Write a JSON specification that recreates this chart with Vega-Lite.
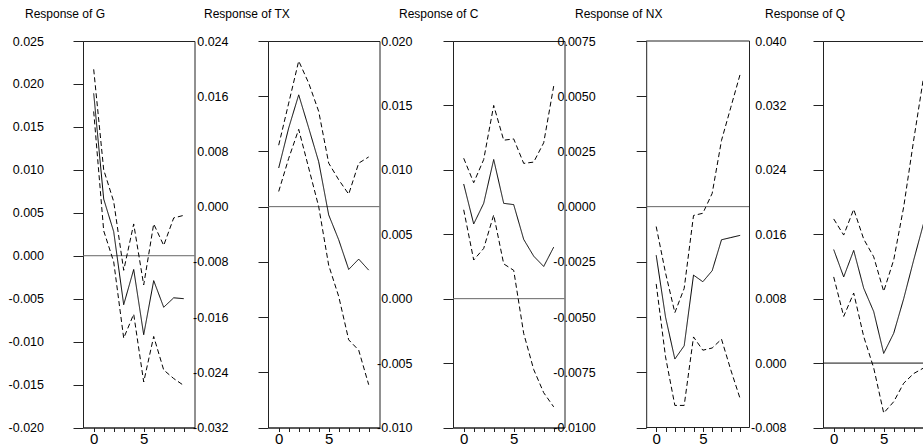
{
  "$schema": "https://vega.github.io/schema/vega-lite/v6.json",
  "autosize": {"type": "none"},
  "padding": {"left": 83, "top": 41, "right": 840, "bottom": 406},
  "datasets": {
    "irf": [
      {"p":"G","t":0,"resp":0.0189,"upper":0.0217,"lower":0.0168},
      {"p":"G","t":1,"resp":0.0066,"upper":0.0100,"lower":0.0029},
      {"p":"G","t":2,"resp":0.0028,"upper":0.0063,"lower":-0.0007},
      {"p":"G","t":3,"resp":-0.0057,"upper":-0.0017,"lower":-0.0096},
      {"p":"G","t":4,"resp":-0.0016,"upper":0.0037,"lower":-0.0068},
      {"p":"G","t":5,"resp":-0.0092,"upper":-0.0034,"lower":-0.0147},
      {"p":"G","t":6,"resp":-0.0029,"upper":0.0037,"lower":-0.0094},
      {"p":"G","t":7,"resp":-0.0060,"upper":0.0012,"lower":-0.0133},
      {"p":"G","t":8,"resp":-0.0049,"upper":0.0044,"lower":-0.0143},
      {"p":"G","t":9,"resp":-0.0050,"upper":0.0047,"lower":-0.0151},
      {"p":"TX","t":0,"resp":0.0056,"upper":0.0089,"lower":0.0022},
      {"p":"TX","t":1,"resp":0.0114,"upper":0.0150,"lower":0.0070},
      {"p":"TX","t":2,"resp":0.0162,"upper":0.0211,"lower":0.0112},
      {"p":"TX","t":3,"resp":0.0114,"upper":0.0179,"lower":0.0056},
      {"p":"TX","t":4,"resp":0.0065,"upper":0.0138,"lower":0.0000},
      {"p":"TX","t":5,"resp":-0.0012,"upper":0.0063,"lower":-0.0085},
      {"p":"TX","t":6,"resp":-0.0048,"upper":0.0039,"lower":-0.0130},
      {"p":"TX","t":7,"resp":-0.0091,"upper":0.0018,"lower":-0.0193},
      {"p":"TX","t":8,"resp":-0.0076,"upper":0.0063,"lower":-0.0208},
      {"p":"TX","t":9,"resp":-0.0092,"upper":0.0072,"lower":-0.0258},
      {"p":"C","t":0,"resp":0.0089,"upper":0.0109,"lower":0.0069},
      {"p":"C","t":1,"resp":0.0058,"upper":0.0090,"lower":0.0030},
      {"p":"C","t":2,"resp":0.0074,"upper":0.0108,"lower":0.0039},
      {"p":"C","t":3,"resp":0.0108,"upper":0.0150,"lower":0.0065},
      {"p":"C","t":4,"resp":0.0074,"upper":0.0123,"lower":0.0027},
      {"p":"C","t":5,"resp":0.0073,"upper":0.0124,"lower":0.0022},
      {"p":"C","t":6,"resp":0.0046,"upper":0.0105,"lower":-0.0027},
      {"p":"C","t":7,"resp":0.0033,"upper":0.0106,"lower":-0.0055},
      {"p":"C","t":8,"resp":0.0025,"upper":0.0121,"lower":-0.0073},
      {"p":"C","t":9,"resp":0.0040,"upper":0.0165,"lower":-0.0084},
      {"p":"NX","t":0,"resp":-0.0022,"upper":-0.0009,"lower":-0.0035},
      {"p":"NX","t":1,"resp":-0.0050,"upper":-0.0030,"lower":-0.0068},
      {"p":"NX","t":2,"resp":-0.0069,"upper":-0.0048,"lower":-0.0090},
      {"p":"NX","t":3,"resp":-0.0063,"upper":-0.0037,"lower":-0.0090},
      {"p":"NX","t":4,"resp":-0.0031,"upper":-0.0004,"lower":-0.0059},
      {"p":"NX","t":5,"resp":-0.0034,"upper":-0.0003,"lower":-0.0065},
      {"p":"NX","t":6,"resp":-0.0029,"upper":0.0006,"lower":-0.0064},
      {"p":"NX","t":7,"resp":-0.0015,"upper":0.0030,"lower":-0.0060},
      {"p":"NX","t":8,"resp":-0.0014,"upper":0.0045,"lower":-0.0074},
      {"p":"NX","t":9,"resp":-0.0013,"upper":0.0060,"lower":-0.0087},
      {"p":"Q","t":0,"resp":0.0141,"upper":0.0179,"lower":0.0107},
      {"p":"Q","t":1,"resp":0.0107,"upper":0.0159,"lower":0.0058},
      {"p":"Q","t":2,"resp":0.0140,"upper":0.0191,"lower":0.0087},
      {"p":"Q","t":3,"resp":0.0093,"upper":0.0154,"lower":0.0033},
      {"p":"Q","t":4,"resp":0.0064,"upper":0.0132,"lower":-0.0006},
      {"p":"Q","t":5,"resp":0.0012,"upper":0.0089,"lower":-0.0062},
      {"p":"Q","t":6,"resp":0.0037,"upper":0.0128,"lower":-0.0048},
      {"p":"Q","t":7,"resp":0.0080,"upper":0.0194,"lower":-0.0025},
      {"p":"Q","t":8,"resp":0.0128,"upper":0.0277,"lower":-0.0013},
      {"p":"Q","t":9,"resp":0.0174,"upper":0.0356,"lower":-0.0006}
    ]
  },
  "hconcat": [
    {
      "width": 111.5, "height": 386.5,
      "title": {"text": "Response of G", "dx": -58},
      "layer": [
        {"data": {"values": [{}]}, "mark": {"type": "rule", "color": "#666"}, "encoding": {"y": {"datum": 0, "type": "quantitative"}}},
        {
          "data": {"name": "irf"},
          "transform": [{"filter": "datum.p === 'G'"}, {"fold": ["resp", "lower", "upper"], "as": ["s", "v"]}],
          "mark": {"type": "line", "color": "#000", "strokeWidth": 1},
          "encoding": {
            "x": {"field": "t", "type": "quantitative", "scale": {"domain": [-1.07, 10.08], "nice": false, "zero": false},
                  "axis": {"values": [0,1,2,3,4,5,6,7,8,9], "labelExpr": "datum.value % 5 === 0 ? datum.label : ''", "tickSize": 4, "labelFontSize": 15, "labelPadding": 0, "grid": false, "title": null, "labelFlush": false, "labelOverlap": false}},
            "y": {"field": "v", "type": "quantitative", "scale": {"domain": [-0.02, 0.025], "nice": false, "zero": false},
                  "axis": {"values": [-0.02,-0.015,-0.01,-0.005,0,0.005,0.01,0.015,0.02,0.025], "format": ".3f", "tickSize": 10, "labelPadding": 29.5, "labelFontSize": 12.5, "grid": false, "title": null, "labelOverlap": false, "labelFlush": false, "labelBound": false}},
            "detail": {"field": "s"},
            "strokeDash": {"field": "s", "type": "nominal", "scale": {"domain": ["resp", "lower", "upper"], "range": [[1, 0], [5, 3], [5, 3]]}, "legend": null}
          }
        }
      ]
    },
    {
      "width": 111.5, "height": 386.5,
      "title": {"text": "Response of TX", "dx": -64},
      "layer": [
        {"data": {"values": [{}]}, "mark": {"type": "rule", "color": "#666"}, "encoding": {"y": {"datum": 0, "type": "quantitative"}}},
        {
          "data": {"name": "irf"},
          "transform": [{"filter": "datum.p === 'TX'"}, {"fold": ["resp", "lower", "upper"], "as": ["s", "v"]}],
          "mark": {"type": "line", "color": "#000", "strokeWidth": 1},
          "encoding": {
            "x": {"field": "t", "type": "quantitative", "scale": {"domain": [-1.07, 10.08], "nice": false, "zero": false},
                  "axis": {"values": [0,1,2,3,4,5,6,7,8,9], "labelExpr": "datum.value % 5 === 0 ? datum.label : ''", "tickSize": 4, "labelFontSize": 15, "labelPadding": 0, "grid": false, "title": null, "labelFlush": false, "labelOverlap": false}},
            "y": {"field": "v", "type": "quantitative", "scale": {"domain": [-0.032, 0.024], "nice": false, "zero": false},
                  "axis": {"values": [-0.032,-0.024,-0.016,-0.008,0,0.008,0.016,0.024], "format": ".3f", "tickSize": 10, "labelPadding": 30, "labelFontSize": 12.5, "grid": false, "title": null, "labelOverlap": false, "labelFlush": false, "labelBound": false}},
            "detail": {"field": "s"},
            "strokeDash": {"field": "s", "type": "nominal", "scale": {"domain": ["resp", "lower", "upper"], "range": [[1, 0], [5, 3], [5, 3]]}, "legend": null}
          }
        }
      ]
    },
    {
      "width": 111.5, "height": 386.5,
      "title": {"text": "Response of C", "dx": -54},
      "layer": [
        {"data": {"values": [{}]}, "mark": {"type": "rule", "color": "#666"}, "encoding": {"y": {"datum": 0, "type": "quantitative"}}},
        {
          "data": {"name": "irf"},
          "transform": [{"filter": "datum.p === 'C'"}, {"fold": ["resp", "lower", "upper"], "as": ["s", "v"]}],
          "mark": {"type": "line", "color": "#000", "strokeWidth": 1},
          "encoding": {
            "x": {"field": "t", "type": "quantitative", "scale": {"domain": [-1.07, 10.08], "nice": false, "zero": false},
                  "axis": {"values": [0,1,2,3,4,5,6,7,8,9], "labelExpr": "datum.value % 5 === 0 ? datum.label : ''", "tickSize": 4, "labelFontSize": 15, "labelPadding": 0, "grid": false, "title": null, "labelFlush": false, "labelOverlap": false}},
            "y": {"field": "v", "type": "quantitative", "scale": {"domain": [-0.01, 0.02], "nice": false, "zero": false},
                  "axis": {"values": [-0.01,-0.005,0,0.005,0.01,0.015,0.02], "format": ".3f", "tickSize": 10, "labelPadding": 31, "labelFontSize": 12.5, "grid": false, "title": null, "labelOverlap": false, "labelFlush": false, "labelBound": false}},
            "detail": {"field": "s"},
            "strokeDash": {"field": "s", "type": "nominal", "scale": {"domain": ["resp", "lower", "upper"], "range": [[1, 0], [5, 3], [5, 3]]}, "legend": null}
          }
        }
      ]
    },
    {
      "width": 111.5, "height": 386.5,
      "view": {"stroke": null},
      "title": {"text": "Response of NX", "dx": -63},
      "layer": [
        {
          "data": {"name": "irf"},
          "transform": [{"filter": "datum.p === 'NX'"}, {"fold": ["resp", "lower", "upper"], "as": ["s", "v"]}],
          "mark": {"type": "line", "color": "#000", "strokeWidth": 1},
          "encoding": {
            "x": {"field": "t", "type": "quantitative", "scale": {"domain": [-1.95, 10.0], "nice": false, "zero": false},
                  "axis": {"values": [0,1,2,3,4,5,6,7,8,9], "labelExpr": "datum.value % 5 === 0 ? datum.label : ''", "tickSize": 4, "labelFontSize": 15, "labelPadding": 0, "grid": false, "title": null, "domain": false, "labelFlush": false, "labelOverlap": false}},
            "y": {"field": "v", "type": "quantitative", "scale": {"domain": [-0.01, 0.0075], "nice": false, "zero": false},
                  "axis": {"values": [-0.01,-0.0075,-0.005,-0.0025,0,0.0025,0.005,0.0075], "format": ".4f", "offset": -8.2, "tickSize": 10, "labelPadding": 41, "labelFontSize": 12.5, "grid": false, "title": null, "labelOverlap": false, "labelFlush": false, "labelBound": false}},
            "detail": {"field": "s"},
            "strokeDash": {"field": "s", "type": "nominal", "scale": {"domain": ["resp", "lower", "upper"], "range": [[1, 0], [5, 3], [5, 3]]}, "legend": null}
          }
        },
        {"data": {"values": [{}]}, "mark": {"type": "rule", "color": "#666"}, "encoding": {"y": {"datum": 0, "type": "quantitative"}, "x": {"datum": -1.07, "type": "quantitative", "axis": {"values": [0,1,2,3,4,5,6,7,8,9], "labelExpr": "datum.value % 5 === 0 ? datum.label : ''", "tickSize": 4, "labelFontSize": 15, "labelPadding": 0, "grid": false, "title": null, "domain": false, "labelFlush": false, "labelOverlap": false}}, "x2": {"datum": 10.0}}},
        {"data": {"values": [{}]}, "mark": {"type": "rule", "color": "#222"}, "encoding": {"y": {"datum": 0.0075, "type": "quantitative"}, "x": {"datum": -1.07, "type": "quantitative", "axis": {"values": [0,1,2,3,4,5,6,7,8,9], "labelExpr": "datum.value % 5 === 0 ? datum.label : ''", "tickSize": 4, "labelFontSize": 15, "labelPadding": 0, "grid": false, "title": null, "domain": false, "labelFlush": false, "labelOverlap": false}}, "x2": {"datum": 10.0}}},
        {"data": {"values": [{}]}, "mark": {"type": "rule", "color": "#222"}, "encoding": {"y": {"datum": -0.01, "type": "quantitative"}, "x": {"datum": -1.07, "type": "quantitative", "axis": {"values": [0,1,2,3,4,5,6,7,8,9], "labelExpr": "datum.value % 5 === 0 ? datum.label : ''", "tickSize": 4, "labelFontSize": 15, "labelPadding": 0, "grid": false, "title": null, "domain": false, "labelFlush": false, "labelOverlap": false}}, "x2": {"datum": 10.0}}},
        {"data": {"values": [{}]}, "mark": {"type": "rule", "color": "#222"}, "encoding": {"x": {"datum": 10.0, "type": "quantitative", "axis": {"values": [0,1,2,3,4,5,6,7,8,9], "labelExpr": "datum.value % 5 === 0 ? datum.label : ''", "tickSize": 4, "labelFontSize": 15, "labelPadding": 0, "grid": false, "title": null, "domain": false, "labelFlush": false, "labelOverlap": false}}, "y": {"datum": -0.01, "type": "quantitative"}, "y2": {"datum": 0.0075}}}
      ]
    },
    {
      "width": 111.5, "height": 386.5,
      "title": {"text": "Response of Q", "dx": -58},
      "layer": [
        {"data": {"values": [{}]}, "mark": {"type": "rule", "color": "#111"}, "encoding": {"y": {"datum": 0, "type": "quantitative"}}},
        {
          "data": {"name": "irf"},
          "transform": [{"filter": "datum.p === 'Q'"}, {"fold": ["resp", "lower", "upper"], "as": ["s", "v"]}],
          "mark": {"type": "line", "color": "#000", "strokeWidth": 1},
          "encoding": {
            "x": {"field": "t", "type": "quantitative", "scale": {"domain": [-1.07, 10.08], "nice": false, "zero": false},
                  "axis": {"values": [0,1,2,3,4,5,6,7,8,9], "labelExpr": "datum.value % 5 === 0 ? datum.label : ''", "tickSize": 4, "labelFontSize": 15, "labelPadding": 0, "grid": false, "title": null, "labelFlush": false, "labelOverlap": false}},
            "y": {"field": "v", "type": "quantitative", "scale": {"domain": [-0.008, 0.04], "nice": false, "zero": false},
                  "axis": {"values": [-0.008,0,0.008,0.016,0.024,0.032,0.04], "format": ".3f", "tickSize": 10, "labelPadding": 27, "labelFontSize": 12.5, "grid": false, "title": null, "labelOverlap": false, "labelFlush": false, "labelBound": false}},
            "detail": {"field": "s"},
            "strokeDash": {"field": "s", "type": "nominal", "scale": {"domain": ["resp", "lower", "upper"], "range": [[1, 0], [5, 3], [5, 3]]}, "legend": null}
          }
        }
      ]
    }
  ],
  "spacing": 73,
  "bounds": "flush",
  "resolve": {"scale": {"x": "independent", "y": "independent"}},
  "config": {
    "locale": {"number": {"decimal": ".", "thousands": ",", "grouping": [3], "currency": ["$", ""], "minus": "-"}},
    "background": "#ffffff",
    "view": {"stroke": "#222", "strokeWidth": 1},
    "axis": {"domainColor": "#222", "tickColor": "#222", "labelColor": "#000", "labelFont": "Liberation Sans, Arial, sans-serif", "domainWidth": 1, "tickWidth": 1, "labelOverlap": false},
    "axisX": {"labelOverlap": false, "labelFlush": false},
    "title": {"font": "Liberation Sans, Arial, sans-serif", "fontSize": 12, "fontWeight": "normal", "anchor": "start", "frame": "group", "color": "#000", "baseline": "bottom", "offset": 14}
  }
}
